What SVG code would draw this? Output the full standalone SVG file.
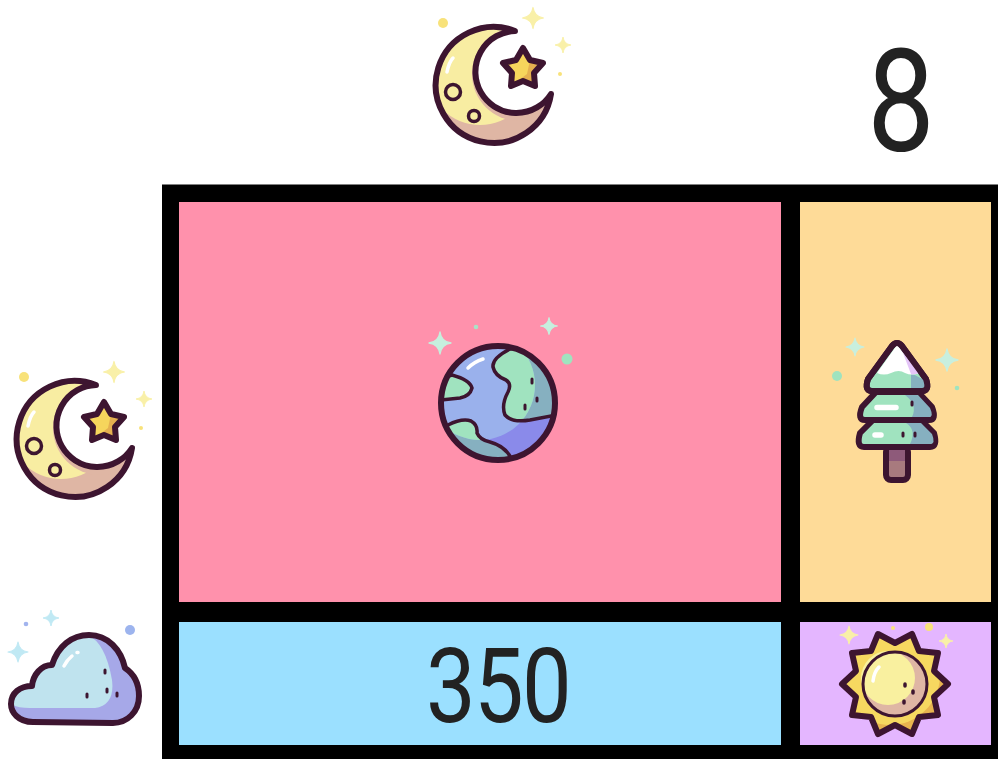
<svg xmlns="http://www.w3.org/2000/svg" width="998" height="759" viewBox="0 0 998 759">
<style>
.ol{stroke:#3d1530;stroke-width:6;stroke-linejoin:round;stroke-linecap:round}
.thin{fill:none;stroke:#3d1530;stroke-width:3.500;stroke-linecap:round;stroke-linejoin:round}
.dot{fill:#3d1530}
.num{font-family:"Roboto","Liberation Sans",sans-serif;font-weight:400;fill:#222;text-anchor:middle}
.hi{fill:none;stroke:#fff;stroke-width:3.500;stroke-linecap:round}
</style>
<defs>
<path id="sp" d="M0-1Q.12-.12 1 0Q.12.12 0 1Q-.12.12-1 0Q-.12-.12 0-1Z" stroke-width=".12" stroke-linejoin="round"/>
<clipPath id="moonClip"><path d="M515 31A58 58 0 1 0 551 94A41 41 0 1 1 515 31Z"/></clipPath>
<path id="star" d="M523 48L530 60L543 63L534 73L535 86L523 81L511 86L512 73L503 63L516 60Z"/>
<g id="moonArt">
<circle cx="443" cy="23" r="5" fill="#f8e27a"/>
<use href="#sp" transform="translate(533 18) scale(10.500)" fill="#f9f0a8" stroke="#f9f0a8"/>
<use href="#sp" transform="translate(563 45) scale(8)" fill="#f9f0a8" stroke="#f9f0a8"/>
<circle cx="560" cy="74" r="2" fill="#f8e27a"/>
<g clip-path="url(#moonClip)">
<rect x="430" y="20" width="130" height="130" fill="#dfb6a4"/>
<circle cx="480" cy="72" r="53" fill="#f8eda2"/>
<circle cx="519" cy="74" r="47" fill="#dfb6a4"/>
</g>
<path class="ol" fill="none" d="M515 31A58 58 0 1 0 551 94A41 41 0 1 1 515 31Z"/>
<path class="hi" d="M447 72Q449 62 453 58"/>
<circle class="thin" cx="453" cy="92" r="7.500"/>
<circle class="thin" cx="474" cy="116" r="5.500"/>
<use href="#star" fill="#f6d55c"/>
<path d="M530 60L543 63L534 73L535 86L523 81L511 86L527 74Z" fill="#e5b050"/>
<use href="#star" fill="none" class="ol"/>
</g>
<clipPath id="globeClip"><circle cx="498" cy="403" r="57"/></clipPath>
<clipPath id="globeLight"><circle cx="480" cy="385" r="55"/></clipPath>
<path id="land" d="M510 349Q492 358 493 367Q495 376 506 380Q512 384 508 392Q501 405 505 415Q512 423 530 420L556 415L560 340ZM452 375Q470 380 472 388Q470 396 460 398L440 400L436 380ZM448 425Q462 418 471 421Q478 425 477 433Q480 440 490 442Q505 446 511 458L470 465L440 440Z"/>
<clipPath id="cloudClip"><path id="cloudP" d="M33 722C18 722 11 712 11 704C11 693 20 686 32 686C33 675 41 665 52 665C58 646 72 635 89 635C108 635 121 650 125 668C134 674 139 684 139 696C139 712 127 723 113 723Z"/></clipPath>
<clipPath id="sunClip"><path d="M948 684L934 697L938 715L919 717L912 734L895 725L878 734L871 717L852 715L856 697L842 684L856 671L852 653L871 651L878 634L895 643L912 634L919 651L938 653L934 671Z"/></clipPath>
</defs>

<rect id="frame" x="162" y="184.500" width="836" height="574.500" fill="#000"/>
<rect id="cell-pink" x="179" y="202" width="602" height="400" fill="#ff91ac"/>
<rect id="cell-orange" x="800" y="202" width="191" height="400" fill="#fedb98"/>
<rect id="cell-blue" x="179" y="622" width="602" height="123" fill="#9be0ff"/>
<rect id="cell-purple" x="800" y="622" width="191" height="123" fill="#e4b6ff"/>

<g id="moon-top"><use href="#moonArt"/></g>
<g id="moon-left"><use href="#moonArt" transform="translate(-419 354)"/></g>

<g id="total"><text class="num" transform="translate(901 151) scale(.84 1)" font-size="143">8</text></g>
<g id="value"><text class="num" transform="translate(498 721.500) scale(.85 1)" font-size="104" letter-spacing="-2">350</text></g>

<g id="earth">
<use href="#sp" transform="translate(440 343) scale(11)" fill="#c6f0de" stroke="#c6f0de"/>
<use href="#sp" transform="translate(549 326) scale(8.500)" fill="#c6f0de" stroke="#c6f0de"/>
<circle cx="476" cy="327" r="2.300" fill="#a9e3c6"/>
<circle cx="567" cy="359" r="5.500" fill="#a0e3bf"/>
<g clip-path="url(#globeClip)">
<rect x="435" y="340" width="130" height="130" fill="#8a8aea"/>
<use href="#land" fill="#86b0c0"/>
<g clip-path="url(#globeLight)">
<rect x="420" y="330" width="130" height="120" fill="#9ab1ec"/>
<use href="#land" fill="#a0e3bf"/>
</g>
<use href="#land" class="thin" style="fill:none"/>
</g>
<circle cx="498" cy="403" r="57" fill="none" class="ol"/>
<path class="hi" d="M468 368Q474 362 483 359"/>
<path class="dot" d="M532 379v4M537 398v3M525 405v4" stroke="#3d1530" stroke-width="3" stroke-linecap="round"/>
</g>

<g id="tree">
<use href="#sp" transform="translate(855 347) scale(9)" fill="#c8efde" stroke="#c8efde"/>
<use href="#sp" transform="translate(947 360) scale(11)" fill="#c8efde" stroke="#c8efde"/>
<circle cx="837" cy="376" r="5" fill="#a0e3bf"/>
<circle cx="957" cy="388" r="2.300" fill="#a0e3bf"/>
<rect x="886" y="447" width="22" height="33" rx="5" fill="#a87a7e" class="ol"/>
<rect x="889" y="449" width="16" height="12" fill="#8e5a7a"/>
<path d="M873 420H921L934 433Q938 447 930 447H864Q856 447 860 433Z" fill="#a0e3bf" class="ol"/>
<path d="M906 423H921L932 434Q936 444 930 444H910Q917 430 906 423Z" fill="#86b0c0"/>
<path d="M876 392H918L932 407Q937 420 929 420H865Q857 420 862 407Z" fill="#a0e3bf" class="ol"/>
<path d="M905 395H918L930 408Q934 417 929 417H912Q918 405 905 395Z" fill="#86b0c0"/>
<path d="M892 346Q897 340 902 346L926 379Q930 391 922 391H872Q864 391 868 379Z" fill="#a0e3bf" class="ol"/>
<path d="M911 373L926 381Q927 388 922 388H911Z" fill="#86b0c0"/>
<path d="M897 345L877 373Q884 376 891 373Q899 369 905 373Q912 376 919 373Z" fill="#fff"/>
<path d="M897 345L919 373Q915 375 911 374L903 353Z" fill="#e4c4f8"/>
<path d="M892 346Q897 340 902 346L926 379Q930 391 922 391H872Q864 391 868 379Z" fill="none" class="ol"/>
<path d="M877 407.500H896M875 435H881" stroke="#fff" stroke-width="5.500" stroke-linecap="round"/>
<path class="dot" d="M912 402v3M903 433v3M915 433v3" stroke="#3d1530" stroke-width="3" stroke-linecap="round"/>
</g>

<g id="cloud">
<use href="#sp" transform="translate(18 652) scale(10)" fill="#c0e9f4" stroke="#c0e9f4"/>
<use href="#sp" transform="translate(51 618) scale(8)" fill="#c0e9f4" stroke="#c0e9f4"/>
<circle cx="26" cy="624" r="2.300" fill="#a2b4ee"/>
<circle cx="130" cy="630" r="5" fill="#9db4ee"/>
<g clip-path="url(#cloudClip)">
<rect y="630" width="150" height="100" fill="#a6a8e8"/>
<path d="M10 704Q18 708 30 708H95Q115 705 112 680Q105 640 85 634L40 640L5 680Z" fill="#bfe3ee"/>
</g>
<use href="#cloudP" fill="none" class="ol"/>
<path class="hi" d="M64 666Q67 660 72 656M77 652.500H78"/>
<path class="dot" d="M105 670v3M87 694v3M107 689v3M117 693v3" stroke="#3d1530" stroke-width="3" stroke-linecap="round"/>
</g>

<g id="sun">
<use href="#sp" transform="translate(849 635) scale(9)" fill="#f9f0a8" stroke="#f9f0a8"/>
<use href="#sp" transform="translate(946 641) scale(7)" fill="#f9f0a8" stroke="#f9f0a8"/>
<circle cx="893" cy="628" r="2" fill="#f8e27a"/>
<circle cx="929" cy="627" r="4" fill="#f8e27a"/>
<g clip-path="url(#sunClip)">
<rect x="835" y="630" width="120" height="110" fill="#e8b44f"/>
<circle cx="890" cy="675" r="50" fill="#f6d860"/>
</g>
<path class="ol" fill="none" d="M948 684L934 697L938 715L919 717L912 734L895 725L878 734L871 717L852 715L856 697L842 684L856 671L852 653L871 651L878 634L895 643L912 634L919 651L938 653L934 671Z"/>
<circle cx="895" cy="684" r="32" fill="#dfb6a4"/>
<circle cx="888" cy="678" r="27" fill="#f9f09f"/>
<circle cx="895" cy="684" r="32" fill="none" stroke="#3d1530" stroke-width="3"/>
<path class="hi" d="M873 681Q874 672 879 667"/>
<path class="dot" d="M905 684v2M913 691v2M904 701v2" stroke="#3d1530" stroke-width="3.500" stroke-linecap="round"/>
</g>
</svg>
